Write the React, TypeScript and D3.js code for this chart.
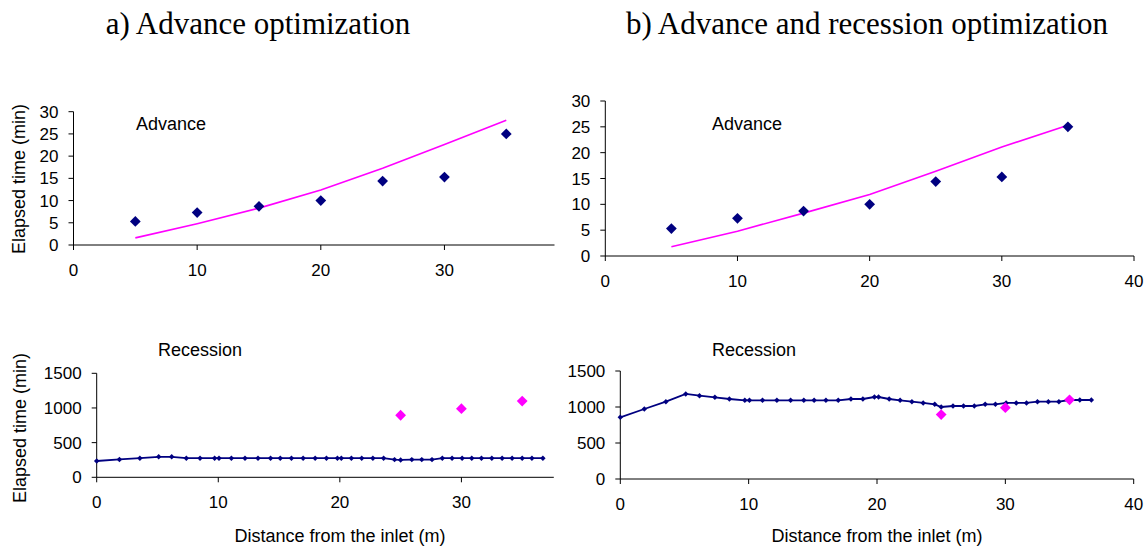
import React from "react";
import * as d3 from "d3";

// advance: observed stations and the two simulated curves
const advanceDistance = [5, 10, 15, 20, 25, 30, 35];
const advanceObserved = [5.3, 7.3, 8.7, 10.0, 14.4, 15.3, 25.0];
const advanceSimA = [1.6, 4.8, 8.3, 12.4, 17.3, 22.6, 28.1];
const advanceSimB = [1.8, 4.8, 8.3, 11.9, 16.4, 21.1, 25.3];

// recession: simulated grid + observed stations
const recessionDistance = [
  0, 1.87, 3.55, 5.1, 6.17, 7.37, 8.5, 9.7, 10.06, 11.08, 12.2, 13.27, 14.3,
  15.1, 16.02, 16.98, 17.97, 18.9, 19.8, 20.12, 20.95, 21.8, 22.72, 23.6, 24.5,
  25.0, 25.92, 26.74, 27.58, 28.43, 29.23, 30.06, 30.85, 31.65, 32.5, 33.35,
  34.17, 35.0, 35.8, 36.7,
];
const recessionSimA = [
  235, 258, 276, 295, 295, 276, 276, 276, 276, 276, 276, 276, 276, 276, 276,
  276, 276, 276, 276, 276, 276, 276, 276, 276, 255, 250, 255, 255, 255, 276,
  276, 276, 276, 276, 276, 276, 276, 276, 276, 276,
];
const recessionSimB = [
  857, 972, 1074, 1181, 1157, 1135, 1111, 1093, 1093, 1093, 1093, 1093, 1093,
  1093, 1093, 1093, 1111, 1111, 1139, 1139, 1111, 1093, 1074, 1056, 1037, 1000,
  1014, 1014, 1014, 1037, 1037, 1056, 1056, 1056, 1074, 1074, 1074, 1097, 1097,
  1097,
];
const recessionObsDistance = [25, 30, 35];
const recessionObserved = [895, 990, 1100];

const advanceTicksY = [0, 5, 10, 15, 20, 25, 30];
const recessionTicksY = [0, 500, 1000, 1500];
const leftTicksX = [0, 10, 20, 30];
const rightTicksX = [0, 10, 20, 30, 40];

const NAVY = "#000080";
const MAGENTA = "#FF00FF";
const SANS = "'Liberation Sans', Arial, sans-serif";

const diamond = d3.symbol(d3.symbolSquare, 58)();
const dot = d3.symbol(d3.symbolSquare, 15)();

function Axes({ x, y, xTicks, yTicks }) {
  const [x0, x1] = x.range();
  const [y0, y1] = y.range();
  return (
    <g fontFamily={SANS} fontSize={17} fill="#000">
      <line x1={x0} x2={x1} y1={y0} y2={y0} stroke="#000" />
      <line x1={x0} x2={x0} y1={y0} y2={y1} stroke="#000" />
      {yTicks.map((t) => (
        <g key={"y" + t}>
          <line x1={x0 - 5} x2={x0} y1={y(t)} y2={y(t)} stroke="#000" />
          <text x={x0 - 15} y={y(t)} dy="0.36em" textAnchor="end">
            {t}
          </text>
        </g>
      ))}
      {xTicks.map((t) => (
        <g key={"x" + t}>
          <line x1={x(t)} x2={x(t)} y1={y0} y2={y0 + 5} stroke="#000" />
          <text x={x(t)} y={y0 + 31} textAnchor="middle">
            {t}
          </text>
        </g>
      ))}
    </g>
  );
}

function AdvancePanel({ x, y, sim, xTicks }) {
  const line = d3
    .line()
    .x((d, i) => x(advanceDistance[i]))
    .y((d) => y(d));
  return (
    <g>
      <Axes x={x} y={y} xTicks={xTicks} yTicks={advanceTicksY} />
      <path d={line(sim)} fill="none" stroke={MAGENTA} strokeWidth={1.6} />
      {advanceObserved.map((v, i) => (
        <path
          key={i}
          d={diamond}
          fill={NAVY}
          transform={`translate(${x(advanceDistance[i])},${y(v)}) rotate(45)`}
        />
      ))}
    </g>
  );
}

function RecessionPanel({ x, y, sim, xTicks }) {
  const line = d3
    .line()
    .x((d, i) => x(recessionDistance[i]))
    .y((d) => y(d));
  return (
    <g>
      <Axes x={x} y={y} xTicks={xTicks} yTicks={recessionTicksY} />
      <path d={line(sim)} fill="none" stroke={NAVY} strokeWidth={1.8} />
      {sim.map((v, i) => (
        <path
          key={i}
          d={dot}
          fill={NAVY}
          transform={`translate(${x(recessionDistance[i])},${y(v)}) rotate(45)`}
        />
      ))}
      {recessionObserved.map((v, i) => (
        <path
          key={"o" + i}
          d={diamond}
          fill={MAGENTA}
          transform={`translate(${x(recessionObsDistance[i])},${y(v)}) rotate(45)`}
        />
      ))}
    </g>
  );
}

export default function App() {
  // scales for the four panels
  const xTL = d3.scaleLinear().domain([0, 38.9]).range([73.5, 554.5]);
  const yTL = d3.scaleLinear().domain([0, 30]).range([245, 111.7]);
  const xTR = d3.scaleLinear().domain([0, 40]).range([605.3, 1134]);
  const yTR = d3.scaleLinear().domain([0, 30]).range([256, 101]);
  const xBL = d3.scaleLinear().domain([0, 37.6]).range([96.7, 553.8]);
  const yBL = d3.scaleLinear().domain([0, 1500]).range([477.3, 373.3]);
  const xBR = d3.scaleLinear().domain([0, 40]).range([620.3, 1133.7]);
  const yBR = d3.scaleLinear().domain([0, 1500]).range([479, 371]);

  return (
    <div style={{ position: "absolute", left: 0, top: 0 }}>
      <svg width={1148} height={546} style={{ display: "block", background: "#fff" }}>
        <g fontFamily="'Liberation Serif', 'Times New Roman', serif" fontSize={31} textAnchor="middle">
          <text x={258} y={34}>a) Advance optimization</text>
          <text x={867} y={34}>b) Advance and recession optimization</text>
        </g>

        <AdvancePanel x={xTL} y={yTL} sim={advanceSimA} xTicks={leftTicksX} />
        <AdvancePanel x={xTR} y={yTR} sim={advanceSimB} xTicks={rightTicksX} />
        <RecessionPanel x={xBL} y={yBL} sim={recessionSimA} xTicks={leftTicksX} />
        <RecessionPanel x={xBR} y={yBR} sim={recessionSimB} xTicks={rightTicksX} />

        <g fontFamily={SANS} fontSize={18}>
          <text x={136} y={129.5}>Advance</text>
          <text x={712} y={129.5}>Advance</text>
          <text x={158} y={355.5}>Recession</text>
          <text x={712} y={355.5}>Recession</text>
          <text x={340} y={542} textAnchor="middle">Distance from the inlet (m)</text>
          <text x={877} y={542} textAnchor="middle">Distance from the inlet (m)</text>
          <text transform="translate(19,179) rotate(-90)" textAnchor="middle" dy="0.35em">
            Elapsed time (min)
          </text>
          <text transform="translate(20,428) rotate(-90)" textAnchor="middle" dy="0.35em">
            Elapsed time (min)
          </text>
        </g>
      </svg>
    </div>
  );
}
